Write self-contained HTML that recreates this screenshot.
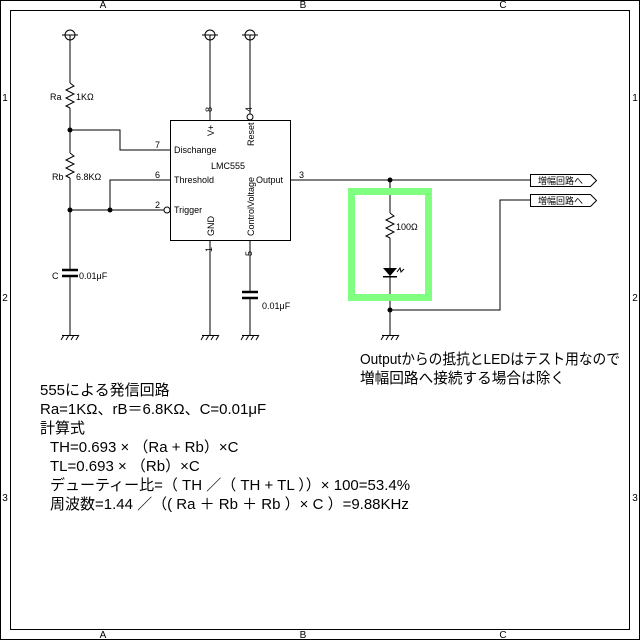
<!DOCTYPE html>
<html><head><meta charset="utf-8"><style>
html,body{margin:0;padding:0;background:#fff}
svg{display:block}
text{font-family:"Liberation Sans","Noto Sans CJK JP",sans-serif}
</style></head><body>
<svg width="640" height="640" viewBox="0 0 640 640" xmlns="http://www.w3.org/2000/svg">
<rect x="0.5" y="0.5" width="639" height="639" fill="none" stroke="#000"/>
<rect x="10.5" y="10.5" width="619" height="619" fill="none" stroke="#000"/>
<g font-size="10" fill="#000" text-anchor="middle">
<text x="103" y="8">A</text><text x="303" y="8">B</text><text x="503" y="8">C</text>
<text x="103" y="638">A</text><text x="303" y="638">B</text><text x="503" y="638">C</text>
<text x="5" y="101">1</text><text x="5" y="301">2</text><text x="5" y="501">3</text>
<text x="635" y="101">1</text><text x="635" y="301">2</text><text x="635" y="501">3</text>
</g>
<g stroke="#000" fill="none" stroke-width="1">
<circle cx="70" cy="35" r="5"/><line x1="62" y1="35" x2="78" y2="35"/><line x1="70" y1="35" x2="70" y2="83"/>
<circle cx="210" cy="35" r="5"/><line x1="202" y1="35" x2="218" y2="35"/><line x1="210" y1="35" x2="210" y2="120"/>
<circle cx="250" cy="35" r="5"/><line x1="242" y1="35" x2="258" y2="35"/><line x1="250" y1="35" x2="250" y2="114"/>
<polyline points="70,83 74,86 66,90 74,94 66,98 74,102 66,106 70,108"/>
<line x1="70" y1="108" x2="70" y2="153"/>
<polyline points="70,153 74,156 66,160 74,164 66,168 74,172 66,176 70,178"/>
<line x1="70" y1="178" x2="70" y2="270"/>
<line x1="62" y1="270" x2="78" y2="270" stroke-width="2.5"/>
<line x1="62" y1="276" x2="78" y2="276" stroke-width="2.5"/>
<line x1="70" y1="276" x2="70" y2="335"/>
<polyline points="70,130 120,130 120,150 170,150"/>
<polyline points="110,210 110,180 170,180"/>
<line x1="70" y1="210" x2="164" y2="210"/>
<circle cx="167" cy="210" r="3"/>
<circle cx="250" cy="117" r="3"/>
<rect x="170.5" y="120.5" width="120" height="120"/>
<line x1="210" y1="240" x2="210" y2="335"/>
<line x1="250" y1="240" x2="250" y2="292"/>
<line x1="242" y1="292" x2="258" y2="292" stroke-width="2.5"/>
<line x1="242" y1="298" x2="258" y2="298" stroke-width="2.5"/>
<line x1="250" y1="298" x2="250" y2="335"/>
<line x1="290" y1="180" x2="530" y2="180"/>
<line x1="390" y1="180" x2="390" y2="213"/>
<polyline points="390,213 394,216 386,220 394,224 386,228 394,232 386,236 390,238"/>
<line x1="390" y1="238" x2="390" y2="335"/>
<polyline points="390,310 500,310 500,200 530,200"/>
</g>
<g fill="#000">
<circle cx="70" cy="130" r="2.5"/><circle cx="70" cy="210" r="2.5"/><circle cx="110" cy="210" r="2.5"/>
<circle cx="390" cy="180" r="2.5"/><circle cx="390" cy="310" r="2.5"/>
<polygon points="383,268 397,268 390,276"/>
<rect x="383" y="276" width="14" height="1.5"/>
</g>
<g stroke="#000" fill="none">
<polyline points="397,272 400,268 401,272 404,269"/>
</g>
<g stroke="#000" fill="none">
<path d="M62 335.5H78M64 335L61 340M69 335L66 340M74 335L71 340M79 335L76 340"/>
<path d="M202 335.5H218M204 335L201 340M209 335L206 340M214 335L211 340M219 335L216 340"/>
<path d="M242 335.5H258M244 335L241 340M249 335L246 340M254 335L251 340M259 335L256 340"/>
<path d="M382 335.5H398M384 335L381 340M389 335L386 340M394 335L391 340M399 335L396 340"/>
</g>
<rect x="351.5" y="191.5" width="77" height="106" fill="none" stroke="#80ff80" stroke-width="7"/>
<g stroke="#000" fill="#fff">
<polygon points="530.5,174.5 590.5,174.5 596.5,180.5 590.5,186.5 530.5,186.5"/>
<polygon points="530.5,194.5 590.5,194.5 596.5,200.5 590.5,206.5 530.5,206.5"/>
</g>
<g font-size="9" fill="#000">
<text x="538" y="184">増幅回路へ</text><text x="538" y="204">増幅回路へ</text>
<text x="50" y="100">Ra</text><text x="76" y="100">1KΩ</text>
<text x="52" y="180">Rb</text><text x="76" y="180">6.8KΩ</text>
<text x="52" y="279">C</text><text x="79" y="279">0.01μF</text>
<text x="262" y="309">0.01μF</text>
<text x="396" y="230">100Ω</text>
<text x="155" y="148">7</text><text x="155" y="178">6</text><text x="155" y="208">2</text>
<text x="174" y="153">Dischange</text><text x="174" y="183">Threshold</text><text x="174" y="213">Trigger</text>
<text x="211" y="169">LMC555</text><text x="256" y="183">Output</text>
<text x="299" y="178">3</text>
<text transform="translate(212,112) rotate(-90)">8</text>
<text transform="translate(252,112) rotate(-90)">4</text>
<text transform="translate(212,252) rotate(-90)">1</text>
<text transform="translate(252,256) rotate(-90)">5</text>
<text transform="translate(214,136) rotate(-90)">V+</text>
<text transform="translate(254,146) rotate(-90)">Reset</text>
<text transform="translate(214,236) rotate(-90)">GND</text>
<text transform="translate(254,236) rotate(-90)">ControlVoltage</text>
</g>
<g font-size="15" fill="#000">
<text x="360" y="364" textLength="260" lengthAdjust="spacingAndGlyphs">Outputからの抵抗とLEDはテスト用なので</text>
<text x="360" y="383" textLength="205" lengthAdjust="spacingAndGlyphs">増幅回路へ接続する場合は除く</text>
<text x="40" y="395">555による発信回路</text>
<text x="40" y="414">Ra=1KΩ、rB＝6.8KΩ、C=0.01μF</text>
<text x="40" y="433">計算式</text>
<text x="50" y="452">TH=0.693 × （Ra + Rb）×C</text>
<text x="50" y="471">TL=0.693 × （Rb）×C</text>
<text x="50" y="490">デューティー比=（ TH ／（ TH + TL ））× 100=53.4%</text>
<text x="50" y="509">周波数=1.44 ／（( Ra ＋ Rb ＋ Rb ）× C ）=9.88KHz</text>
</g>
</svg>
</body></html>
